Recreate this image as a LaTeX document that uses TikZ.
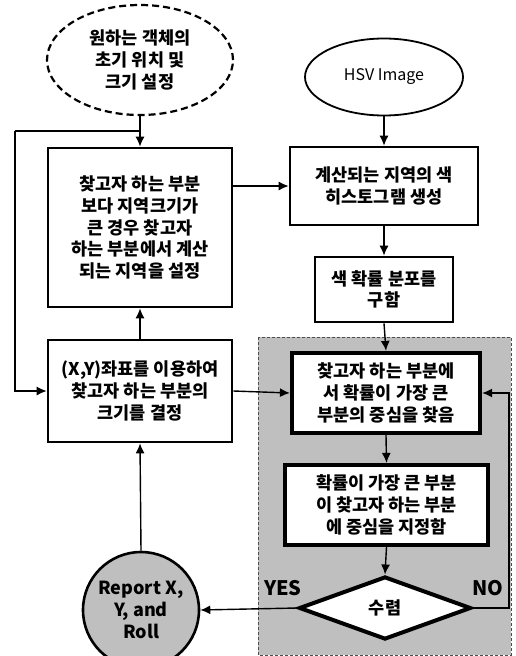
\documentclass[tikz,border=0pt]{standalone}
\usepackage{fontspec}
\setmainfont{Noto Sans CJK KR}
\usepackage{tikz}
\usetikzlibrary{shapes.geometric,arrows.meta}

\tikzset{
  box/.style={draw, line width=2.6pt, fill=white, align=center, inner sep=1pt,
              font=\fontsize{17.5}{21.7}\selectfont\bfseries},
  thickbox/.style={box, line width=4.2pt},
  arr/.style={line width=1.4pt, -{Latex[length=10pt,width=9pt]}},
  flow/.style={line width=1.4pt}
}

\begin{document}
\begin{tikzpicture}[x=1pt,y=-1pt]
% Define frame
\useasboundingbox (0,0) rectangle (516,656);
\begin{scope}
\clip (0,0) rectangle (516,656);
% Gray region
\draw[fill=black!25, draw=black!70, densely dashed, line width=0.8pt] (258,337) rectangle (511,655);
% Left column
\node[box, ellipse, dash pattern=on 7pt off 4pt, line width=2.2pt, minimum width=186pt, minimum height=110pt] (start) at (140,60)
  {원하는 객체의\\초기 위치 및\\크기 설정};
\node[box, minimum width=184pt, minimum height=159pt] (search) at (140,227.5)
  {찾고자 하는 부분\\보다 지역크기가\\큰 경우 찾고자\\하는 부분에서 계산\\되는 지역을 설정};
\node[box, minimum width=184pt, minimum height=102pt] (size) at (140,391)
  {(X,Y)좌표를 이용하여\\찾고자 하는 부분의\\크기를 결정};
\node[box, circle, fill=black!25, minimum size=116pt, font=\fontsize{18}{22}\selectfont\bfseries] (report) at (141,610)
  {Report X,\\Y, and\\Roll};
% Right column
\node[box, ellipse, line width=1.8pt, minimum width=158pt, minimum height=77pt, font=\fontsize{16}{18}\selectfont] (hsv) at (384,77)
  {HSV Image};
\node[box, minimum width=188pt, minimum height=78pt] (hist) at (384,186)
  {계산되는 지역의 색\\히스토그램 생성};
\node[box, minimum width=138pt, minimum height=65pt] (prob) at (384,289.5)
  {색 확률 분포를\\구함};
\node[thickbox, minimum width=188pt, minimum height=80pt] (center) at (386,393)
  {찾고자 하는 부분에\\서 확률이 가장 큰\\부분의 중심을 찾음};
\node[thickbox, minimum width=203pt, minimum height=80pt] (assign) at (386.5,505)
  {확률이 가장 큰 부분\\이 찾고자 하는 부분\\에 중심을 지정함};
\node[box, diamond, line width=4pt, aspect=2.7, minimum width=172pt, minimum height=63pt, inner sep=0pt] (conv) at (385,608)
  {수렴};
% Labels
\node[font=\fontsize{20}{22}\selectfont\bfseries] (yes) at (283,588) {YES};
\node[font=\fontsize{20}{22}\selectfont\bfseries] (no) at (488,588) {NO};
% Connectors
\coordinate (loop) at (141,131);
\draw[arr] (start.south) -- (search.north);
\draw[flow] (loop) -- (15,131) coordinate (loopturn);
\draw[arr] (loopturn) |- (size.west);
\draw[arr] (size.north) -- (search.south);
\draw[arr] (search.east |- hist.west) -- (hist.west);
\draw[arr] (hsv.south) -- (hist.north);
\draw[arr] (hist.south) -- (prob.north);
\draw[arr] (prob.south) -- (center.north);
\draw[arr] (size.east) -- (center.west);
\draw[arr] (center.south) -- (assign.north);
\draw[arr] (assign.south) -- (conv.north);
\draw[arr] (conv.east) -- ++(36,0) |- (center.east);
\draw[arr] (conv.west) -- (report.east);
\draw[arr] (report.north) -- (size.south);
\end{scope}
\end{tikzpicture}
\end{document}
